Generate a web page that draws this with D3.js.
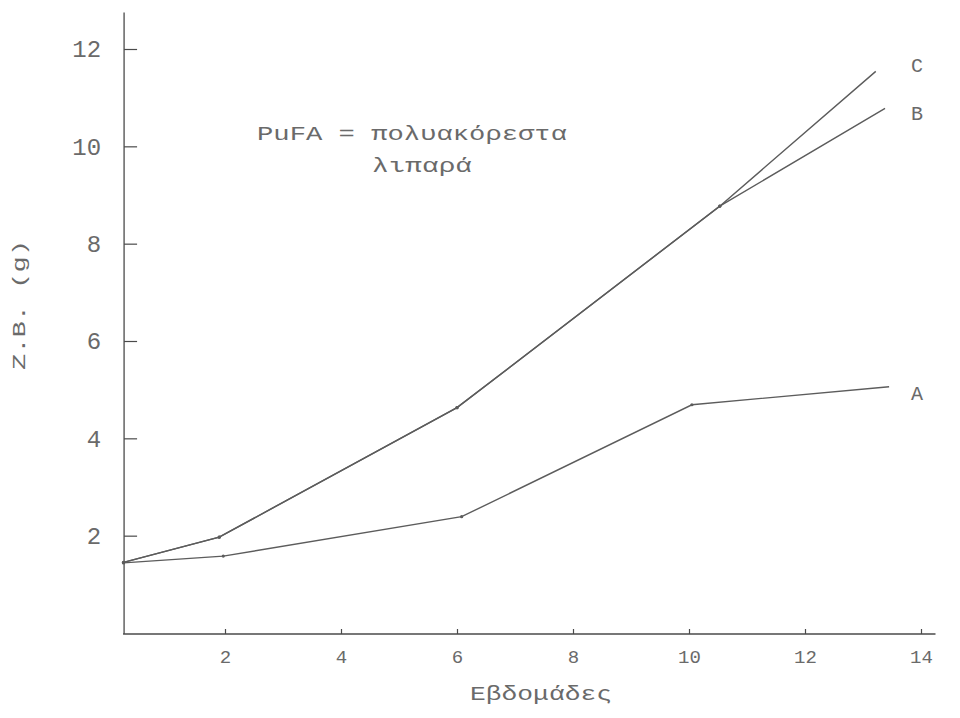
<!DOCTYPE html>
<html>
<head>
<meta charset="utf-8">
<script src="https://cdn.jsdelivr.net/npm/d3@7/dist/d3.min.js"></script>
<style>
  html, body { margin: 0; padding: 0; background: #fff; }
  svg { display: block; }
  text { font-family: "Liberation Mono", "DejaVu Sans Mono", monospace; fill: #6a6a6a; }
</style>
</head>
<body>
<svg id="chart" width="960" height="718"></svg>
<script>
// Weeks and body weight (g) for the three diets
const weeksA = [0.25, 1.97, 6.08, 10.05, 13.45];
const valuesA = [1.44, 1.58, 2.39, 4.69, 5.06];
const weeksB = [0.25, 1.9, 6.0, 10.53, 13.38];
const valuesB = [1.45, 1.97, 4.63, 8.77, 10.78];
const weeksC = [0.25, 1.9, 6.0, 10.53, 13.22];
const valuesC = [1.45, 1.97, 4.63, 8.77, 11.54];
const seriesNames = ["A", "B", "C"];
const xTicks = [2, 4, 6, 8, 10, 12, 14];
const yTicks = [2, 4, 6, 8, 10, 12];
const xTitle = "Εβδομάδες";
const yTitle = "Z.B. (g)";
const noteLine1 = "PuFA = πολυακόρεστα";
const noteLine2 = "λιπαρά";

const svg = d3.select("#chart");
const x = d3.scaleLinear().domain([0, 14]).range([109, 921]);
const y = d3.scaleLinear().domain([0, 12]).range([633, 49]);

const axisColor = "#4a4a4a";
const lineColor = "#5c5c5c";
const xMin = 0.26, xMax = 14.25, yTop = 12.75;

// axis lines
svg.append("line")
  .attr("x1", x(xMin)).attr("x2", x(xMin))
  .attr("y1", y(yTop)).attr("y2", y(0) + 1)
  .attr("stroke", axisColor).attr("stroke-width", 1.3);
svg.append("line")
  .attr("x1", x(xMin) - 1).attr("x2", x(xMax))
  .attr("y1", y(0) + 1).attr("y2", y(0) + 1)
  .attr("stroke", axisColor).attr("stroke-width", 1.3);

// y axis ticks pointing inward, labels on the left
const yAxis = d3.axisLeft(y).tickValues(yTicks)
  .tickSizeInner(-13).tickSizeOuter(0).tickPadding(23);
const gy = svg.append("g").attr("transform", `translate(${x(xMin)},0)`).call(yAxis);
gy.select(".domain").remove();
gy.selectAll(".tick line").attr("stroke", axisColor).attr("stroke-width", 1.2);
gy.selectAll(".tick text")
  .style("font-family", "'Liberation Mono', monospace")
  .style("font-size", "24px").attr("fill", "#7a7a7a");

// x axis ticks: short marks upward, labels below
const xAxis = d3.axisBottom(x).tickValues(xTicks)
  .tickSizeInner(-5).tickSizeOuter(0).tickPadding(16);
const gx = svg.append("g").attr("transform", `translate(0,${y(0) + 1})`).call(xAxis);
gx.select(".domain").remove();
gx.selectAll(".tick line").attr("stroke", axisColor).attr("stroke-width", 1.2);
gx.selectAll(".tick text")
  .style("font-family", "'Liberation Mono', monospace")
  .style("font-size", "19px")
  .attr("fill", d => (d === 10 || d === 12) ? "#a8a8a8" : "#8a8a8a");

// series lines
const line = d3.line().x(d => x(d[0])).y(d => y(d[1]));
const series = [
  { name: seriesNames[0], pts: d3.zip(weeksA, valuesA), dy: 13 },
  { name: seriesNames[1], pts: d3.zip(weeksB, valuesB), dy: 12 },
  { name: seriesNames[2], pts: d3.zip(weeksC, valuesC), dy: 1 }
];
series.forEach(s => {
  svg.append("path").datum(s.pts)
    .attr("d", line)
    .attr("fill", "none")
    .attr("stroke", lineColor)
    .attr("stroke-width", 1.4);
  svg.selectAll(null).data(s.pts.slice(0, -1)).enter().append("circle")
    .attr("cx", d => x(d[0])).attr("cy", d => y(d[1]))
    .attr("r", 1.6).attr("fill", lineColor);
  const last = s.pts[s.pts.length - 1];
  svg.append("text")
    .attr("x", x(13.45) + 22)
    .attr("y", y(last[1]) + s.dy)
    .attr("font-size", 20)
    .attr("fill", "#666")
    .text(s.name);
});

// note
svg.append("text")
  .attr("x", 257).attr("y", 140)
  .attr("font-size", 20)
  .attr("textLength", 310).attr("lengthAdjust", "spacingAndGlyphs")
  .attr("fill", "#606060")
  .text(noteLine1);
svg.append("text")
  .attr("x", 372).attr("y", 172)
  .attr("font-size", 20)
  .attr("textLength", 100).attr("lengthAdjust", "spacingAndGlyphs")
  .attr("fill", "#606060")
  .text(noteLine2);

// axis titles
svg.append("text")
  .attr("x", 541).attr("y", 700)
  .attr("text-anchor", "middle")
  .attr("font-size", 21)
  .attr("textLength", 142).attr("lengthAdjust", "spacingAndGlyphs")
  .attr("fill", "#606060")
  .text(xTitle);
svg.append("text")
  .attr("transform", "translate(25,305) rotate(-90)")
  .attr("text-anchor", "middle")
  .attr("font-size", 18)
  .attr("textLength", 130).attr("lengthAdjust", "spacingAndGlyphs")
  .attr("fill", "#8a8a8a")
  .text(yTitle);
</script>
</body>
</html>
